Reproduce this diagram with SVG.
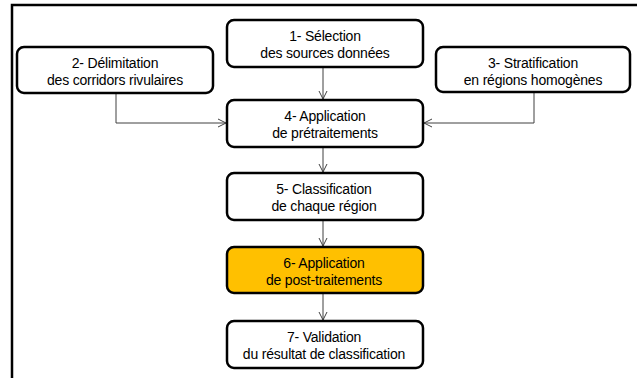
<svg xmlns="http://www.w3.org/2000/svg" width="637" height="378" viewBox="0 0 637 378">
<defs>
<style>
.box{fill:#fff;stroke:#000;stroke-width:2.5}
.hl{fill:#FFC000}
.t{font-family:"Liberation Sans",Arial,sans-serif;font-size:14px;fill:#000;text-anchor:middle;letter-spacing:-0.2px}
.c{fill:none;stroke:#404040;stroke-width:1}
</style>
<marker id="ah" markerWidth="10" markerHeight="10" refX="9" refY="5" orient="auto" markerUnits="userSpaceOnUse">
<path d="M1,1 L9,5 L1,9" fill="none" stroke="#404040" stroke-width="1"/>
</marker>
</defs>
<rect x="0" y="0" width="637" height="378" fill="#fff"/>
<rect x="12" y="5" width="640" height="400" fill="none" stroke="#000" stroke-width="2.5"/>
<g id="connectors">
<line class="c" x1="323" y1="67" x2="323" y2="99" marker-end="url(#ah)"/>
<polyline class="c" points="116,93 116,123 226,123" marker-end="url(#ah)"/>
<polyline class="c" points="534,92 534,123 424,123" marker-end="url(#ah)"/>
<line class="c" x1="323" y1="147" x2="323" y2="172" marker-end="url(#ah)"/>
<line class="c" x1="323" y1="220" x2="323" y2="246" marker-end="url(#ah)"/>
<line class="c" x1="323" y1="293" x2="323" y2="320" marker-end="url(#ah)"/>
</g>
<g id="n1">
<rect class="box" x="227" y="20" width="196" height="47" rx="7"/>
<text class="t" x="325" y="41">1- Sélection</text>
<text class="t" x="325" y="58">des sources données</text>
</g>
<g id="n2">
<rect class="box" x="17" y="47" width="196" height="46" rx="7"/>
<text class="t" x="115" y="68">2- Délimitation</text>
<text class="t" x="115" y="85">des corridors rivulaires</text>
</g>
<g id="n3">
<rect class="box" x="436" y="47" width="194" height="45" rx="7"/>
<text class="t" x="533" y="68">3- Stratification</text>
<text class="t" x="533" y="85">en régions homogènes</text>
</g>
<g id="n4">
<rect class="box" x="227" y="100" width="196" height="47" rx="7"/>
<text class="t" x="325" y="121">4- Application</text>
<text class="t" x="325" y="138">de prétraitements</text>
</g>
<g id="n5">
<rect class="box" x="227" y="173" width="196" height="47" rx="7"/>
<text class="t" x="324" y="194">5- Classification</text>
<text class="t" x="324" y="211">de chaque région</text>
</g>
<g id="n6">
<rect class="box hl" x="227" y="247" width="196" height="46" rx="7"/>
<text class="t" x="324" y="268">6- Application</text>
<text class="t" x="324" y="285">de post-traitements</text>
</g>
<g id="n7">
<rect class="box" x="227" y="321" width="196" height="47" rx="7"/>
<text class="t" x="324" y="342">7- Validation</text>
<text class="t" x="324" y="359">du résultat de classification</text>
</g>
</svg>
